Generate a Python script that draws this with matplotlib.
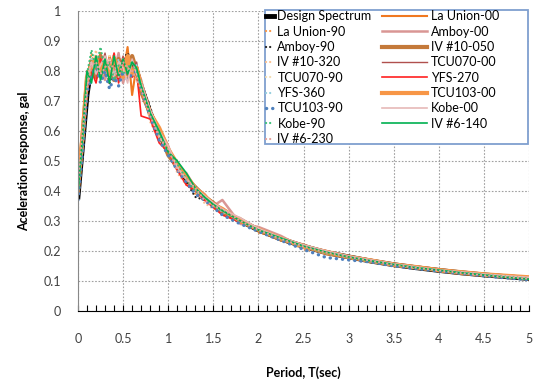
import matplotlib
matplotlib.use("Agg")
import matplotlib.pyplot as plt
from matplotlib.patches import Rectangle
from matplotlib.lines import Line2D

plt.rcParams['font.family'] = ['Lato', 'DejaVu Sans']

# period grid (sec) shared by all spectra
period = [0, 0.05, 0.1, 0.15, 0.2, 0.25, 0.3, 0.35, 0.4, 0.45, 0.5, 0.55, 0.6, 0.65,
          0.7, 0.8, 0.9, 1.0, 1.1, 1.2, 1.3, 1.4, 1.5, 1.6, 1.8, 2.0, 2.25, 2.5,
          2.75, 3.0, 3.25, 3.5, 3.75, 4.0, 4.25, 4.5, 4.75, 5.0]

design = [0.38, 0.55, 0.72, 0.82, 0.82, 0.82, 0.82, 0.82, 0.82, 0.82, 0.82, 0.82, 0.82, 0.80,
          0.75, 0.66, 0.59, 0.53, 0.48, 0.44, 0.41, 0.38, 0.355, 0.335, 0.30, 0.27, 0.24, 0.215,
          0.195, 0.18, 0.166, 0.154, 0.144, 0.135, 0.127, 0.12, 0.114, 0.108]

la_union_00 = [0.42, 0.60, 0.78, 0.84, 0.80, 0.86, 0.78, 0.85, 0.80, 0.83, 0.79, 0.88, 0.72, 0.82,
               0.74, 0.67, 0.58, 0.54, 0.47, 0.45, 0.40, 0.385, 0.35, 0.34, 0.295, 0.275, 0.235, 0.22,
               0.19, 0.182, 0.162, 0.156, 0.142, 0.137, 0.125, 0.122, 0.113, 0.112]
la_union_90 = [0.40, 0.62, 0.76, 0.86, 0.79, 0.84, 0.81, 0.76, 0.85, 0.78, 0.83, 0.80, 0.84, 0.79,
               0.76, 0.64, 0.60, 0.52, 0.49, 0.43, 0.39, 0.37, 0.36, 0.32, 0.31, 0.26, 0.245, 0.205,
               0.198, 0.175, 0.168, 0.15, 0.146, 0.132, 0.128, 0.118, 0.115, 0.105]
amboy_00 = [0.41, 0.57, 0.80, 0.78, 0.85, 0.80, 0.77, 0.84, 0.79, 0.86, 0.76, 0.83, 0.78, 0.81,
            0.77, 0.65, 0.61, 0.55, 0.47, 0.46, 0.41, 0.39, 0.35, 0.37, 0.29, 0.28, 0.25, 0.21,
            0.20, 0.178, 0.17, 0.152, 0.148, 0.134, 0.13, 0.119, 0.116, 0.11]
amboy_90 = [0.39, 0.52, 0.74, 0.80, 0.84, 0.79, 0.82, 0.76, 0.80, 0.77, 0.84, 0.86, 0.83, 0.82,
            0.76, 0.68, 0.58, 0.53, 0.50, 0.43, 0.38, 0.37, 0.35, 0.33, 0.30, 0.265, 0.24, 0.215,
            0.19, 0.183, 0.165, 0.155, 0.143, 0.135, 0.126, 0.121, 0.112, 0.106]
iv10_050 = [0.40, 0.58, 0.77, 0.83, 0.78, 0.85, 0.80, 0.82, 0.77, 0.84, 0.80, 0.78, 0.85, 0.80,
            0.73, 0.66, 0.60, 0.52, 0.48, 0.445, 0.405, 0.38, 0.36, 0.33, 0.305, 0.27, 0.238, 0.218,
            0.192, 0.18, 0.167, 0.153, 0.145, 0.136, 0.126, 0.12, 0.115, 0.11]
iv10_320 = [0.43, 0.59, 0.75, 0.81, 0.87, 0.77, 0.84, 0.80, 0.86, 0.79, 0.81, 0.77, 0.80, 0.78,
            0.77, 0.63, 0.57, 0.55, 0.46, 0.42, 0.42, 0.36, 0.34, 0.34, 0.30, 0.27, 0.24, 0.212,
            0.197, 0.177, 0.165, 0.152, 0.143, 0.133, 0.127, 0.119, 0.113, 0.107]
tcu070_00 = [0.38, 0.56, 0.73, 0.79, 0.83, 0.81, 0.86, 0.78, 0.83, 0.80, 0.85, 0.79, 0.81, 0.83,
             0.75, 0.67, 0.59, 0.54, 0.49, 0.44, 0.40, 0.39, 0.355, 0.335, 0.30, 0.275, 0.243, 0.217,
             0.196, 0.181, 0.167, 0.156, 0.145, 0.136, 0.128, 0.121, 0.115, 0.109]
tcu070_90 = [0.41, 0.55, 0.76, 0.82, 0.80, 0.83, 0.79, 0.85, 0.78, 0.81, 0.84, 0.80, 0.79, 0.81,
             0.74, 0.65, 0.58, 0.53, 0.48, 0.44, 0.41, 0.38, 0.35, 0.335, 0.30, 0.27, 0.24, 0.215,
             0.195, 0.18, 0.166, 0.154, 0.144, 0.135, 0.127, 0.12, 0.114, 0.108]
yfs_270 = [0.40, 0.61, 0.79, 0.80, 0.76, 0.84, 0.81, 0.79, 0.86, 0.76, 0.82, 0.84, 0.78, 0.80,
           0.65, 0.64, 0.56, 0.53, 0.47, 0.42, 0.40, 0.37, 0.345, 0.32, 0.295, 0.27, 0.24, 0.218,
           0.2, 0.182, 0.168, 0.157, 0.146, 0.138, 0.13, 0.123, 0.117, 0.113]
yfs_360 = [0.39, 0.54, 0.75, 0.84, 0.81, 0.78, 0.83, 0.80, 0.79, 0.84, 0.77, 0.82, 0.80, 0.82,
           0.76, 0.66, 0.59, 0.54, 0.48, 0.45, 0.40, 0.38, 0.355, 0.33, 0.305, 0.27, 0.238, 0.213,
           0.192, 0.178, 0.164, 0.152, 0.142, 0.134, 0.126, 0.118, 0.112, 0.105]
tcu103_00 = [0.42, 0.58, 0.78, 0.82, 0.84, 0.80, 0.83, 0.79, 0.84, 0.81, 0.78, 0.85, 0.79, 0.81,
             0.75, 0.66, 0.61, 0.54, 0.49, 0.45, 0.41, 0.385, 0.355, 0.34, 0.30, 0.272, 0.242, 0.215,
             0.197, 0.18, 0.168, 0.155, 0.146, 0.136, 0.129, 0.122, 0.117, 0.112]
tcu103_90 = [0.37, 0.53, 0.73, 0.78, 0.82, 0.76, 0.80, 0.74, 0.78, 0.75, 0.80, 0.77, 0.79, 0.80,
             0.74, 0.65, 0.57, 0.52, 0.47, 0.43, 0.39, 0.37, 0.345, 0.32, 0.29, 0.265, 0.235, 0.205,
             0.178, 0.17, 0.163, 0.15, 0.141, 0.133, 0.125, 0.117, 0.11, 0.104]
kobe_00 = [0.40, 0.57, 0.77, 0.83, 0.79, 0.82, 0.85, 0.81, 0.78, 0.83, 0.81, 0.76, 0.84, 0.79,
           0.76, 0.67, 0.60, 0.55, 0.48, 0.44, 0.41, 0.385, 0.36, 0.34, 0.31, 0.275, 0.245, 0.22,
           0.2, 0.183, 0.17, 0.157, 0.147, 0.137, 0.13, 0.123, 0.117, 0.112]
kobe_90 = [0.41, 0.56, 0.79, 0.87, 0.81, 0.88, 0.80, 0.83, 0.77, 0.82, 0.79, 0.81, 0.83, 0.80,
           0.75, 0.66, 0.59, 0.53, 0.49, 0.44, 0.40, 0.38, 0.35, 0.335, 0.30, 0.27, 0.24, 0.214,
           0.194, 0.179, 0.166, 0.154, 0.145, 0.135, 0.127, 0.12, 0.114, 0.108]
iv6_140 = [0.39, 0.58, 0.80, 0.76, 0.85, 0.77, 0.84, 0.76, 0.85, 0.78, 0.84, 0.79, 0.83, 0.81,
           0.75, 0.66, 0.60, 0.53, 0.50, 0.46, 0.41, 0.38, 0.355, 0.335, 0.30, 0.27, 0.243, 0.216,
           0.196, 0.18, 0.167, 0.155, 0.144, 0.136, 0.127, 0.12, 0.112, 0.106]
iv6_230 = [0.42, 0.60, 0.74, 0.82, 0.83, 0.79, 0.81, 0.84, 0.80, 0.78, 0.83, 0.81, 0.80, 0.77,
           0.74, 0.65, 0.58, 0.54, 0.47, 0.44, 0.41, 0.37, 0.35, 0.34, 0.30, 0.27, 0.24, 0.215,
           0.195, 0.18, 0.167, 0.154, 0.144, 0.135, 0.126, 0.119, 0.113, 0.107]

dots = (0, (0.05, 1.8))
# (label, values, color, linewidth, linestyle)
col_left = [
    ("Design Spectrum", design, "#000000", 3.5, "-"),
    ("La Union-90", la_union_90, "#F79646", 1.6, dots),
    ("Amboy-90", amboy_90, "#222222", 1.6, dots),
    ("IV #10-320", iv10_320, "#FAC090", 1.6, dots),
    ("TCU070-90", tcu070_90, "#F2DDB0", 1.6, dots),
    ("YFS-360", yfs_360, "#93CDDD", 1.6, dots),
    ("TCU103-90", tcu103_90, "#4F81BD", 2.4, dots),
    ("Kobe-90", kobe_90, "#3CC07A", 1.6, dots),
    ("IV #6-230", iv6_230, "#E6A09A", 1.6, dots),
]
col_right = [
    ("La Union-00", la_union_00, "#F07820", 1.5, "-"),
    ("Amboy-00", amboy_00, "#D99694", 1.8, "-"),
    ("IV #10-050", iv10_050, "#C4793A", 3.0, "-"),
    ("TCU070-00", tcu070_00, "#B0504D", 1.0, "-"),
    ("YFS-270", yfs_270, "#FF2020", 1.2, "-"),
    ("TCU103-00", tcu103_00, "#F79646", 3.0, "-"),
    ("Kobe-00", kobe_00, "#E6B9B8", 1.2, "-"),
    ("IV #6-140", iv6_140, "#00B050", 1.2, "-"),
]

fig = plt.figure(figsize=(5.34, 3.81), dpi=100)
ax = fig.add_axes([0.146, 0.184, 0.845, 0.787])

series = [col_left[0]]
for a, b in zip(col_left[1:], col_right):
    series += [b, a]
for label, vals, color, lw, ls in series:
    ax.plot(period, vals, color=color, lw=lw, ls=ls, dash_capstyle='round',
            solid_joinstyle='round')

ax.set_xlim(0, 5)
ax.set_ylim(0, 1)
ax.set_xticks([0, 0.5, 1, 1.5, 2, 2.5, 3, 3.5, 4, 4.5, 5])
ax.set_xticklabels(['0', '0.5', '1', '1.5', '2', '2.5', '3', '3.5', '4', '4.5', '5'])
ax.set_xticks([i / 10 for i in range(51)], minor=True)
ax.set_yticks([i / 10 for i in range(11)])
ax.set_yticklabels(['0', '0.1', '0.2', '0.3', '0.4', '0.5', '0.6', '0.7', '0.8', '0.9', '1'])
ax.tick_params(axis='x', which='both', direction='in', length=4, width=0.8, pad=16,
               labelsize=9, labelcolor='#404040')
ax.tick_params(axis='y', length=0, pad=12, labelsize=9, labelcolor='#404040')
ax.grid(True, color='#A0A0A0', lw=0.8, ls=(0, (1.5, 1.5)))
ax.set_axisbelow(True)
for s in ['top', 'right']:
    ax.spines[s].set_visible(False)
ax.spines['left'].set_color('#888888')
ax.spines['bottom'].set_color('#000000')

ax.set_xlabel('Period, T(sec)', fontsize=9, fontweight='bold', labelpad=15)
ax.set_ylabel('Aceleration response, gal', fontsize=9, fontweight='bold', labelpad=10)

# legend box with two columns of entries
ax.add_patch(Rectangle((0.415, 0.557), 0.583, 0.446, transform=ax.transAxes,
                       facecolor='white', edgecolor='#7F9FCF', lw=1.3, zorder=4,
                       clip_on=False))

def handles(entries):
    return [Line2D([], [], color=c, lw=lw, ls=ls, dash_capstyle='round')
            for _, _, c, lw, ls in entries]

leg1 = ax.legend(handles(col_left), [e[0] for e in col_left], loc='upper left',
                 bbox_to_anchor=(0.417, 1.003), frameon=False, borderpad=0,
                 borderaxespad=0, handlelength=0.6, handletextpad=0.3,
                 labelspacing=0.27, fontsize=9)
leg1.set_zorder(5)
ax.add_artist(leg1)
leg2 = ax.legend(handles(col_right), [e[0] for e in col_right], loc='upper left',
                 bbox_to_anchor=(0.674, 1.003), frameon=False, borderpad=0,
                 borderaxespad=0, handlelength=3.6, handletextpad=0.32,
                 labelspacing=0.27, fontsize=9)
leg2.set_zorder(5)

fig.savefig('out.png', dpi=100)
